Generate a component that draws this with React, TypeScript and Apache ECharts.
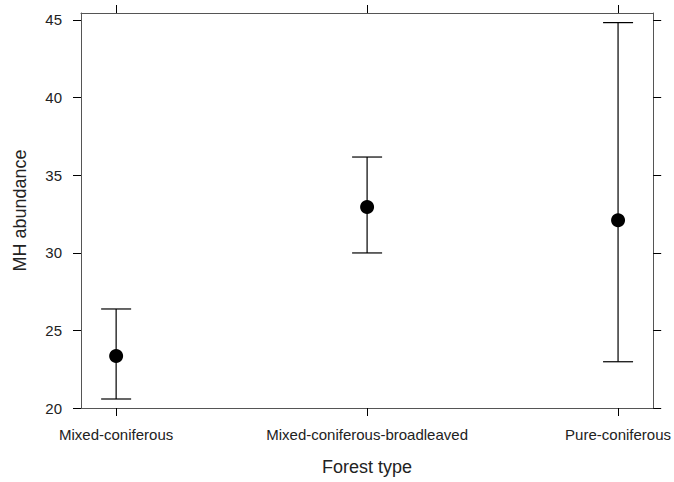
import React, { useEffect, useRef } from "react";
import * as echarts from "echarts";

const categories = ["Mixed-coniferous", "Mixed-coniferous-broadleaved", "Pure-coniferous"];
const means = [23.35, 32.95, 32.1];
const lowers = [20.58, 29.99, 22.98];
const uppers = [26.38, 36.17, 44.83];
const yTicks = [20, 25, 30, 35, 40, 45];
const catPositions = [1, 2, 3];

const FONT = "Liberation Sans, Arial, sans-serif";

export default function App() {
  const ref = useRef<HTMLDivElement>(null);
  useEffect(() => {
    if (!ref.current) return;
    const chart = echarts.init(ref.current, null, { renderer: "svg" });
    const errData = catPositions.map((x, i) => [x, lowers[i], uppers[i]]);
    const meanData = catPositions.map((x, i) => [x, means[i]]);
    const lineColor = "#555555";
    chart.setOption({
      animation: false,
      backgroundColor: "#ffffff",
      grid: { left: 81, top: 13, right: 19, bottom: 74, containLabel: false },
      xAxis: [
        {
          type: "value",
          min: 0.86,
          max: 3.14,
          position: "bottom",
          name: "Forest type",
          nameLocation: "middle",
          nameGap: 50,
          nameTextStyle: { fontFamily: FONT, fontSize: 18, color: "#222" },
          axisLine: { show: true, lineStyle: { color: lineColor, width: 1 } },
          axisTick: { show: true, customValues: catPositions, length: 8, inside: false, lineStyle: { color: "#000" } },
          axisLabel: {
            show: true,
            customValues: catPositions,
            margin: 19,
            fontFamily: FONT,
            fontSize: 15,
            color: "#222",
            hideOverlap: false,
            formatter: (v: number) => categories[Math.round(v) - 1] ?? "",
          },
          splitLine: { show: false },
        },
        {
          type: "value",
          min: 0.86,
          max: 3.14,
          position: "top",
          axisLine: { show: true, lineStyle: { color: lineColor, width: 1 } },
          axisTick: { show: true, customValues: catPositions, length: 8, inside: false, lineStyle: { color: "#000" } },
          axisLabel: { show: false },
          splitLine: { show: false },
        },
      ],
      yAxis: [
        {
          type: "value",
          min: 20,
          max: 45.45,
          position: "left",
          name: "MH abundance",
          nameLocation: "middle",
          nameGap: 52,
          nameRotate: 90,
          nameTextStyle: { fontFamily: FONT, fontSize: 18, color: "#222" },
          axisLine: { show: true, lineStyle: { color: lineColor, width: 1 } },
          axisTick: { show: true, customValues: yTicks, length: 8, inside: false, lineStyle: { color: "#000" } },
          axisLabel: { show: true, customValues: yTicks, margin: 19, fontFamily: FONT, fontSize: 15, color: "#222" },
          splitLine: { show: false },
        },
        {
          type: "value",
          min: 20,
          max: 45.45,
          position: "right",
          axisLine: { show: true, lineStyle: { color: lineColor, width: 1 } },
          axisTick: { show: true, customValues: yTicks, length: 8, inside: false, lineStyle: { color: "#000" } },
          axisLabel: { show: false },
          splitLine: { show: false },
        },
      ],
      series: [
        {
          type: "custom",
          xAxisIndex: 0,
          yAxisIndex: 0,
          data: errData,
          renderItem: (params: any, api: any) => {
            const x = api.value(0);
            const lo = api.coord([x, api.value(1)]);
            const hi = api.coord([x, api.value(2)]);
            const half = 15;
            const style = { stroke: "#000", lineWidth: 1.2 };
            return {
              type: "group",
              children: [
                { type: "line", shape: { x1: lo[0], y1: lo[1], x2: hi[0], y2: hi[1] }, style },
                { type: "line", shape: { x1: hi[0] - half, y1: hi[1], x2: hi[0] + half, y2: hi[1] }, style },
                { type: "line", shape: { x1: lo[0] - half, y1: lo[1], x2: lo[0] + half, y2: lo[1] }, style },
              ],
            };
          },
          z: 2,
        },
        {
          type: "scatter",
          xAxisIndex: 0,
          yAxisIndex: 0,
          data: meanData,
          symbol: "circle",
          symbolSize: 14,
          itemStyle: { color: "#000", opacity: 1 },
          z: 3,
        },
      ],
    });
    return () => chart.dispose();
  }, []);
  return (
    <div
      ref={ref}
      style={{ position: "absolute", left: 0, top: 0, width: 674, height: 482 }}
    />
  );
}
